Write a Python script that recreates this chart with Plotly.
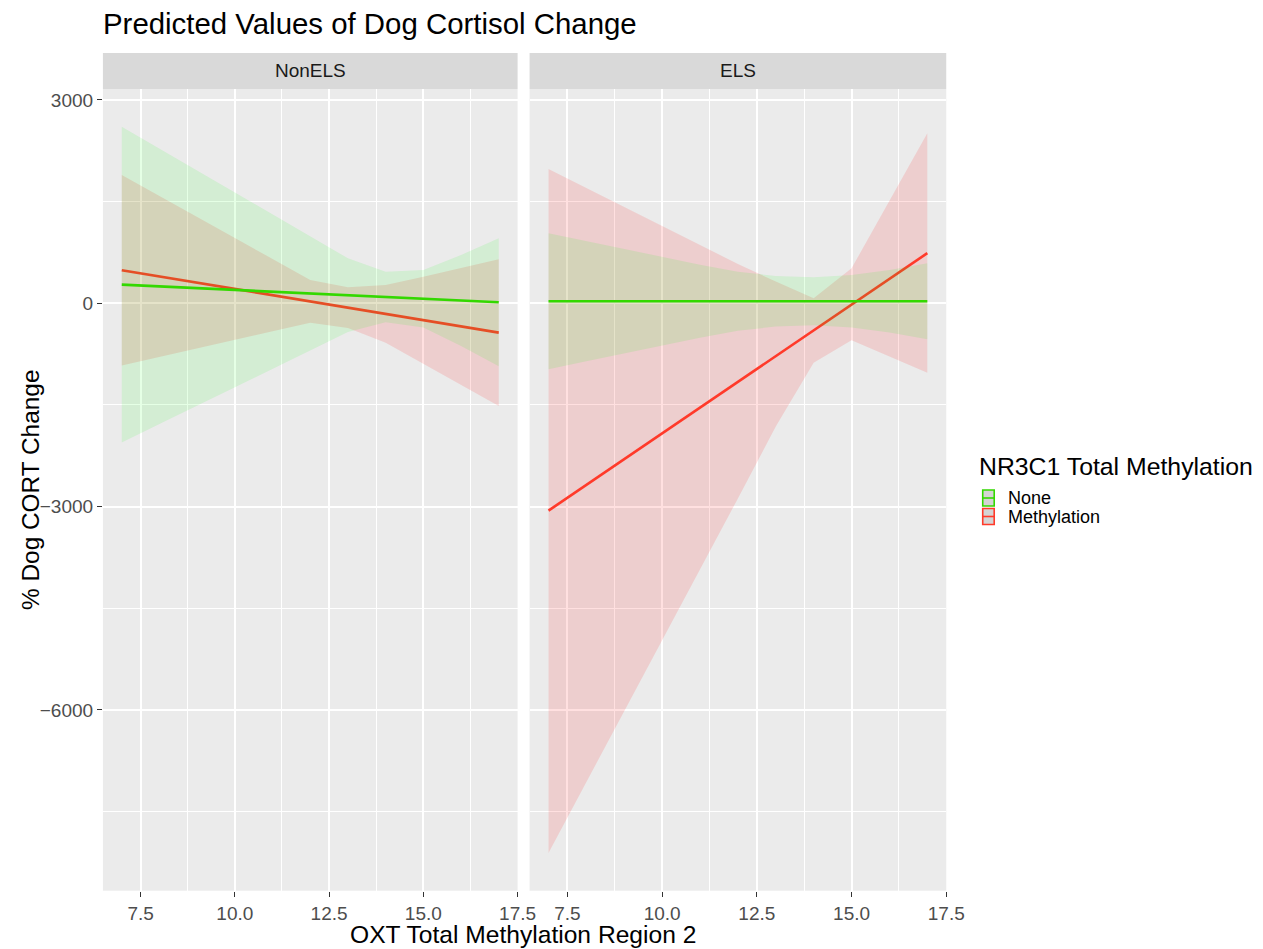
import plotly.graph_objects as go

# reference canvas size (paper fractions are computed from it)
W, H = 1263, 949
# the page gets captured at 1280 px wide and scaled to 1263, so the figure is 1280 wide
FIG_W, FIG_H = 1280, 949

def px(x):
    return x / W

def py(y):
    return 1 - y / H

# ---------------- data ----------------
x_vals = [7, 8, 9, 10, 11, 12, 13, 14, 15, 16, 17]
panels = ["NonELS", "ELS"]
groups = ["None", "Methylation"]

nonels_none_fit = [275, 250, 225, 198, 172, 147, 120, 94, 67, 41, 15]
nonels_none_hi = [2606, 2282, 1957, 1632, 1308, 990, 664, 466, 491, 713, 959]
nonels_none_lo = [-2055, -1782, -1510, -1236, -964, -698, -424, -280, -357, -631, -929]

nonels_meth_fit = [488, 396, 304, 212, 120, 28, -64, -156, -249, -341, -433]
nonels_meth_hi = [1893, 1583, 1274, 964, 654, 344, 236, 270, 393, 520, 649]
nonels_meth_lo = [-917, -791, -666, -540, -414, -288, -364, -582, -891, -1202, -1515]

els_none_fit = [30, 30, 30, 30, 30, 30, 30, 30, 30, 30, 30]
els_none_hi = [1033, 916, 800, 683, 570, 467, 403, 384, 418, 491, 590]
els_none_lo = [-973, -856, -740, -623, -510, -407, -343, -324, -358, -431, -530]

els_meth_fit = [-3060, -2680, -2300, -1920, -1540, -1160, -780, -400, -20, 360, 740]
els_meth_hi = [1980, 1700, 1420, 1140, 850, 580, 320, 74, 516, 1510, 2509]
els_meth_lo = [-8110, -7060, -6020, -4980, -3930, -2880, -1820, -877, -547, -790, -1024]

x_tickvals = [7.5, 10.0, 12.5, 15.0, 17.5]
x_ticktext = ["7.5", "10.0", "12.5", "15.0", "17.5"]
x_minor = [8.75, 11.25, 13.75, 16.25]
y_tickvals = [3000, 0, -3000, -6000]
y_minor = [1500, -1500, -4500, -7500]

# ---------------- styling ----------------
FONT = "Liberation Sans, Arial, Helvetica, sans-serif"
GREEN = "#33D800"
RED = "#FF3A2A"
GREEN_FILL = "rgba(0,255,0,0.10)"
RED_FILL = "rgba(255,0,0,0.12)"

data = {
    "NonELS": {
        "None": (nonels_none_fit, nonels_none_hi, nonels_none_lo),
        "Methylation": (nonels_meth_fit, nonels_meth_hi, nonels_meth_lo),
    },
    "ELS": {
        "None": (els_none_fit, els_none_hi, els_none_lo),
        "Methylation": (els_meth_fit, els_meth_hi, els_meth_lo),
    },
}
line_col = {"None": GREEN, "Methylation": RED}
fill_col = {"None": GREEN_FILL, "Methylation": RED_FILL}

fig = go.Figure()
for i, p in enumerate(panels):
    xa = "x" if i == 0 else "x2"
    ya = "y" if i == 0 else "y2"
    # draw order: Methylation ribbon, Methylation line, None ribbon, None line
    for g in ["Methylation", "None"]:
        fit, hi, lo = data[p][g]
        fig.add_trace(go.Scatter(
            x=x_vals + x_vals[::-1], y=hi + lo[::-1],
            fill="toself", fillcolor=fill_col[g], line=dict(width=0),
            mode="lines", hoverinfo="skip", showlegend=False,
            xaxis=xa, yaxis=ya))
        fig.add_trace(go.Scatter(
            x=x_vals, y=fit, mode="lines",
            line=dict(color=line_col[g], width=2.6),
            name=g, showlegend=False, xaxis=xa, yaxis=ya))

yr = [-8668, 3162]
xr = [6.5, 17.5]

def xaxis_cfg(d0, d1):
    return dict(
        domain=[px(d0), px(d1)], range=xr, tickmode="array",
        tickvals=x_tickvals, ticktext=x_ticktext,
        showgrid=True, gridcolor="white", gridwidth=1.6,
        minor=dict(tickmode="array", tickvals=x_minor, showgrid=True,
                   gridcolor="white", gridwidth=0.8, ticks=""),
        zeroline=False, showline=False,
        ticks="outside", ticklen=5, tickwidth=1.1, tickcolor="#333333",
        tickfont=dict(family=FONT, size=19, color="#4D4D4D"),
        fixedrange=True)

def yaxis_cfg(show_labels):
    return dict(
        domain=[py(890.7), py(89)], range=yr, tickmode="array",
        tickvals=y_tickvals,
        showgrid=True, gridcolor="white", gridwidth=1.6,
        minor=dict(tickmode="array", tickvals=y_minor, showgrid=True,
                   gridcolor="white", gridwidth=0.8, ticks=""),
        zeroline=False, showline=False,
        ticks="outside" if show_labels else "", ticklen=5, tickwidth=1.1,
        tickcolor="#333333", showticklabels=show_labels,
        tickfont=dict(family=FONT, size=19, color="#4D4D4D"),
        fixedrange=True)

fig.update_layout(
    width=FIG_W, height=FIG_H, autosize=False,
    margin=dict(l=0, r=0, t=0, b=0),
    paper_bgcolor="white", plot_bgcolor="#EBEBEB",
    showlegend=False,
    font=dict(family=FONT, color="black"),
    xaxis=xaxis_cfg(103, 518),
    xaxis2=xaxis_cfg(530, 947),
    yaxis=yaxis_cfg(True),
    yaxis2=dict(yaxis_cfg(False), anchor="x2", matches="y"),
)
fig.layout.xaxis2.anchor = "y2"

shapes = []
annotations = []
# facet strips
for (x0, x1), label in zip([(103, 518), (530, 947)], panels):
    shapes.append(dict(type="rect", xref="paper", yref="paper",
                       x0=px(x0), x1=px(x1), y0=py(89), y1=py(53),
                       fillcolor="#D9D9D9", line=dict(width=0), layer="below"))
    annotations.append(dict(text=label, xref="paper", yref="paper",
                            x=px((x0 + x1) / 2), y=py(71), showarrow=False,
                            xanchor="center", yanchor="middle",
                            font=dict(family=FONT, size=19, color="#1A1A1A")))

# titles
annotations.append(dict(text="Predicted Values of Dog Cortisol Change",
                        xref="paper", yref="paper", x=px(101), y=py(23),
                        xanchor="left", yanchor="middle", showarrow=False,
                        font=dict(family=FONT, size=29.4, color="black")))
annotations.append(dict(text="OXT Total Methylation Region 2",
                        xref="paper", yref="paper", x=px(523), y=py(934),
                        xanchor="center", yanchor="middle", showarrow=False,
                        font=dict(family=FONT, size=24.6, color="black")))
annotations.append(dict(text="% Dog CORT Change",
                        xref="paper", yref="paper", x=px(30), y=py(490),
                        xanchor="center", yanchor="middle", showarrow=False,
                        textangle=-90,
                        font=dict(family=FONT, size=24.4, color="black")))

# legend (drawn manually, ggplot style)
annotations.append(dict(text="NR3C1 Total Methylation",
                        xref="paper", yref="paper", x=px(978), y=py(466),
                        xanchor="left", yanchor="middle", showarrow=False,
                        font=dict(family=FONT, size=24.8, color="black")))
for k, g in enumerate(groups):
    top = 490 + k * 18.5
    bot = top + 16
    mid = (top + bot) / 2
    shapes.append(dict(type="rect", xref="paper", yref="paper",
                       x0=px(983.5), x1=px(995), y0=py(bot), y1=py(top),
                       fillcolor="#D4D4D4", line=dict(color=line_col[g], width=1.6)))
    shapes.append(dict(type="line", xref="paper", yref="paper",
                       x0=px(983.5), x1=px(995), y0=py(mid), y1=py(mid),
                       line=dict(color=line_col[g], width=1.6)))
    annotations.append(dict(text=g, xref="paper", yref="paper",
                            x=px(1007), y=py(mid),
                            xanchor="left", yanchor="middle", showarrow=False,
                            font=dict(family=FONT, size=18, color="black")))

fig.update_layout(shapes=shapes, annotations=annotations)
fig.write_html(
    "out.html",
    config={"displayModeBar": False},
    post_script=(
        "document.documentElement.style.margin='0';"
        "document.body.style.margin='0';"
    ),
)
